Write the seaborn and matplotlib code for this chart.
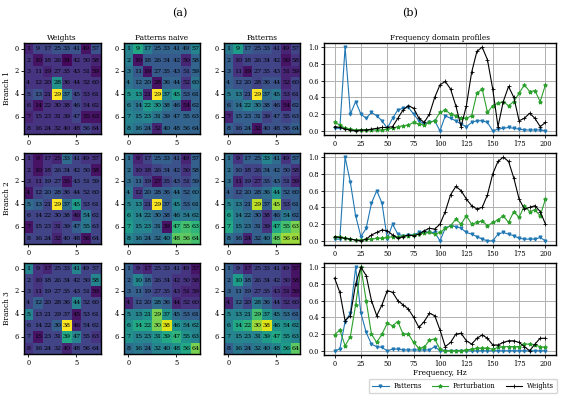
import numpy as np
import matplotlib
matplotlib.use("Agg")
import matplotlib.pyplot as plt
import seaborn as sns

plt.rcParams['font.family'] = 'DejaVu Serif'

# ---- heatmap data (relative intensity 0..1), rows 0-7 top to bottom ----
b1_weights = [
    [0.10, 0.20, 0.20, 0.25, 0.25, 0.25, 0.05, 0.25],
    [0.15, 0.05, 0.15, 0.15, 0.02, 0.15, 0.15, 0.10],
    [0.15, 0.15, 0.10, 0.15, 0.15, 0.15, 0.15, 0.05],
    [0.15, 0.15, 0.15, 0.50, 0.15, 0.15, 0.15, 0.15],
    [0.20, 0.25, 0.15, 1.00, 0.35, 0.20, 0.15, 0.15],
    [0.15, 0.05, 0.15, 0.15, 0.15, 0.20, 0.15, 0.15],
    [0.10, 0.15, 0.15, 0.15, 0.15, 0.20, 0.05, 0.05],
    [0.15, 0.15, 0.15, 0.15, 0.15, 0.15, 0.20, 0.15],
]
b1_naive = [
    [0.45, 0.60, 0.42, 0.32, 0.32, 0.32, 0.32, 0.45],
    [0.42, 0.05, 0.28, 0.28, 0.28, 0.28, 0.10, 0.32],
    [0.38, 0.28, 0.05, 0.28, 0.28, 0.28, 0.22, 0.32],
    [0.38, 0.32, 0.32, 0.05, 0.32, 0.32, 0.15, 0.38],
    [0.50, 0.50, 0.10, 1.00, 0.45, 0.55, 0.28, 0.32],
    [0.42, 0.38, 0.55, 0.50, 0.38, 0.32, 0.05, 0.32],
    [0.45, 0.42, 0.45, 0.38, 0.32, 0.32, 0.32, 0.32],
    [0.42, 0.38, 0.32, 0.10, 0.32, 0.32, 0.32, 0.32],
]
b1_patterns = [
    [0.40, 0.55, 0.30, 0.25, 0.25, 0.20, 0.10, 0.20],
    [0.30, 0.15, 0.20, 0.20, 0.20, 0.20, 0.05, 0.15],
    [0.30, 0.15, 0.05, 0.20, 0.20, 0.20, 0.10, 0.10],
    [0.30, 0.25, 0.25, 0.20, 0.25, 0.25, 0.10, 0.20],
    [0.40, 0.40, 0.25, 1.00, 0.35, 0.40, 0.15, 0.20],
    [0.30, 0.35, 0.45, 0.40, 0.30, 0.25, 0.05, 0.25],
    [0.10, 0.30, 0.30, 0.30, 0.20, 0.25, 0.20, 0.25],
    [0.30, 0.25, 0.30, 0.05, 0.25, 0.25, 0.25, 0.30],
]
b2_weights = [
    [0.15, 0.05, 0.15, 0.10, 0.35, 0.20, 0.15, 0.15],
    [0.15, 0.05, 0.15, 0.20, 0.20, 0.20, 0.20, 0.05],
    [0.15, 0.15, 0.20, 0.20, 0.05, 0.20, 0.20, 0.20],
    [0.05, 0.20, 0.25, 0.25, 0.20, 0.20, 0.20, 0.20],
    [0.35, 0.30, 0.20, 1.00, 0.35, 0.55, 0.20, 0.20],
    [0.20, 0.20, 0.20, 0.20, 0.20, 0.10, 0.40, 0.20],
    [0.05, 0.20, 0.20, 0.15, 0.20, 0.30, 0.40, 0.20],
    [0.20, 0.20, 0.20, 0.10, 0.20, 0.20, 0.05, 0.20],
]
b2_naive = [
    [0.35, 0.10, 0.20, 0.30, 0.30, 0.25, 0.10, 0.30],
    [0.35, 0.15, 0.15, 0.20, 0.25, 0.25, 0.15, 0.30],
    [0.35, 0.30, 0.20, 0.05, 0.20, 0.25, 0.20, 0.30],
    [0.40, 0.15, 0.30, 0.30, 0.30, 0.35, 0.30, 0.35],
    [0.45, 0.45, 0.20, 1.00, 0.30, 0.45, 0.30, 0.35],
    [0.50, 0.45, 0.40, 0.35, 0.30, 0.40, 0.40, 0.40],
    [0.55, 0.45, 0.45, 0.35, 0.05, 0.65, 0.70, 0.65],
    [0.45, 0.40, 0.35, 0.35, 0.40, 0.75, 0.75, 0.70],
]
b2_patterns = [
    [0.35, 0.15, 0.30, 0.30, 0.45, 0.35, 0.15, 0.30],
    [0.35, 0.25, 0.20, 0.20, 0.30, 0.30, 0.25, 0.15],
    [0.35, 0.10, 0.20, 0.15, 0.25, 0.30, 0.20, 0.10],
    [0.30, 0.25, 0.30, 0.30, 0.35, 0.50, 0.30, 0.30],
    [0.45, 0.40, 0.30, 0.90, 0.30, 0.85, 0.20, 0.30],
    [0.55, 0.40, 0.35, 0.30, 0.15, 0.30, 0.40, 0.30],
    [0.60, 0.40, 0.35, 0.30, 0.15, 0.60, 0.70, 0.80],
    [0.35, 0.30, 0.10, 0.30, 0.35, 0.75, 0.85, 0.85],
]
b3_weights = [
    [0.45, 0.15, 0.10, 0.20, 0.20, 0.45, 0.20, 0.20],
    [0.20, 0.15, 0.20, 0.20, 0.20, 0.20, 0.20, 0.45],
    [0.20, 0.15, 0.20, 0.20, 0.20, 0.20, 0.20, 0.05],
    [0.20, 0.30, 0.20, 0.20, 0.20, 0.45, 0.20, 0.20],
    [0.45, 0.20, 0.20, 0.20, 0.20, 0.05, 0.20, 0.20],
    [0.20, 0.20, 0.20, 0.30, 1.00, 0.10, 0.20, 0.20],
    [0.20, 0.05, 0.20, 0.20, 0.60, 0.45, 0.20, 0.15],
    [0.15, 0.20, 0.20, 0.20, 0.10, 0.20, 0.20, 0.20],
]
b3_naive = [
    [0.30, 0.15, 0.10, 0.20, 0.20, 0.20, 0.15, 0.05],
    [0.30, 0.45, 0.30, 0.20, 0.20, 0.15, 0.15, 0.10],
    [0.30, 0.30, 0.25, 0.20, 0.20, 0.15, 0.10, 0.10],
    [0.10, 0.25, 0.25, 0.35, 0.30, 0.10, 0.15, 0.15],
    [0.45, 0.45, 0.50, 0.80, 0.50, 0.35, 0.30, 0.30],
    [0.50, 0.60, 0.60, 0.80, 0.95, 0.50, 0.45, 0.45],
    [0.50, 0.45, 0.45, 0.50, 0.60, 0.65, 0.50, 0.45],
    [0.35, 0.40, 0.35, 0.45, 0.45, 0.50, 0.60, 0.80],
]
b3_patterns = [
    [0.30, 0.20, 0.10, 0.20, 0.20, 0.20, 0.15, 0.05],
    [0.30, 0.55, 0.30, 0.20, 0.20, 0.20, 0.15, 0.05],
    [0.30, 0.30, 0.25, 0.20, 0.20, 0.15, 0.10, 0.05],
    [0.10, 0.30, 0.20, 0.40, 0.30, 0.20, 0.15, 0.15],
    [0.45, 0.45, 0.45, 0.70, 0.50, 0.40, 0.35, 0.30],
    [0.45, 0.60, 0.65, 0.85, 0.95, 0.50, 0.50, 0.45],
    [0.45, 0.45, 0.45, 0.45, 0.55, 0.60, 0.50, 0.45],
    [0.30, 0.40, 0.35, 0.40, 0.40, 0.45, 0.55, 0.75],
]

heatmaps = [
    [b1_weights, b1_naive, b1_patterns],
    [b2_weights, b2_naive, b2_patterns],
    [b3_weights, b3_naive, b3_patterns],
]
col_titles = ["Weights", "Patterns naive", "Patterns"]
branch_labels = ["Branch 1", "Branch 2", "Branch 3"]

# cell numbers, counted down the columns
cell_ids = np.arange(1, 65).reshape(8, 8).T

# ---- frequency profiles, every 5 Hz ----
freqs = np.arange(0, 205, 5)

b1_pat = [0.03, 0.03, 1.0, 0.2, 0.35, 0.2, 0.15, 0.22, 0.18, 0.12,
          0.03, 0.15, 0.25, 0.27, 0.28, 0.2, 0.12, 0.08, 0.1, 0.12,
          0.0, 0.18, 0.15, 0.12, 0.08, 0.05, 0.1, 0.12, 0.12, 0.1,
          0.0, 0.02, 0.03, 0.04, 0.03, 0.02, 0.01, 0.01, 0.01, 0.01, 0.0]
b1_pert = [0.1, 0.07, 0.03, 0.02, 0.01, 0.01, 0.01, 0.01, 0.01, 0.01,
           0.02, 0.03, 0.05, 0.06, 0.07, 0.1, 0.08, 0.07, 0.1, 0.12,
           0.22, 0.25, 0.2, 0.18, 0.15, 0.15, 0.18, 0.45, 0.5, 0.22,
           0.3, 0.33, 0.35, 0.3, 0.35, 0.45, 0.55, 0.47, 0.48, 0.35, 0.55]
b1_wts = [0.05, 0.04, 0.02, 0.01, 0.0, 0.01, 0.01, 0.02, 0.03, 0.04,
          0.04, 0.05, 0.15, 0.25, 0.3, 0.27, 0.15, 0.1, 0.2, 0.4,
          0.55, 0.59, 0.5, 0.3, 0.05, 0.3, 0.7, 0.95, 1.0, 0.85,
          0.5, 0.05, 0.35, 0.53, 0.4, 0.12, 0.15, 0.21, 0.15, 0.05, 0.1]

b2_pat = [0.02, 0.02, 1.0, 0.7, 0.3, 0.05, 0.15, 0.45, 0.6, 0.45,
          0.02, 0.2, 0.08, 0.06, 0.07, 0.07, 0.1, 0.1, 0.1, 0.1,
          0.0, 0.15, 0.18, 0.17, 0.15, 0.1, 0.08, 0.05, 0.02, 0.0,
          0.0, 0.08, 0.1, 0.08, 0.06, 0.03, 0.02, 0.02, 0.02, 0.04, 0.0]
b2_pert = [0.05, 0.05, 0.03, 0.02, 0.01, 0.01, 0.02, 0.02, 0.03, 0.03,
           0.04, 0.05, 0.05, 0.06, 0.06, 0.07, 0.08, 0.09, 0.1, 0.08,
           0.1, 0.15, 0.18, 0.26, 0.2, 0.3, 0.2, 0.22, 0.24, 0.18,
           0.22, 0.25, 0.3, 0.22, 0.35, 0.28, 0.42, 0.35, 0.37, 0.3, 0.5]
b2_wts = [0.05, 0.04, 0.03, 0.02, 0.01, 0.0, 0.02, 0.07, 0.1, 0.13,
          0.12, 0.07, 0.03, 0.05, 0.07, 0.06, 0.08, 0.12, 0.15, 0.14,
          0.2, 0.35, 0.55, 0.65, 0.6, 0.5, 0.42, 0.38, 0.4, 0.55,
          0.8, 0.95, 1.0, 0.95, 0.75, 0.5, 0.38, 0.4, 0.42, 0.35, 0.2]

b3_pat = [0.0, 0.02, 0.35, 0.45, 1.0, 0.45, 0.22, 0.08, 0.05, 0.04,
          0.0, 0.02, 0.02, 0.01, 0.01, 0.01, 0.01, 0.01, 0.01, 0.05,
          0.0, 0.0, 0.0, 0.0, 0.0, 0.0, 0.0, 0.0, 0.0, 0.0,
          0.0, 0.0, 0.0, 0.0, 0.0, 0.0, 0.0, 0.0, 0.0, 0.0, 0.0]
b3_pert = [0.19, 0.25, 0.06, 0.17, 0.55, 1.0, 0.6, 0.2, 0.1, 0.2,
           0.33, 0.3, 0.35, 0.2, 0.2, 0.1, 0.03, 0.04, 0.13, 0.14,
           0.02, 0.0, 0.0, 0.0, 0.0, 0.01, 0.02, 0.03, 0.03, 0.03,
           0.02, 0.04, 0.05, 0.05, 0.05, 0.05, 0.08, 0.08, 0.07, 0.05, 0.04]
b3_wts = [0.87, 0.7, 0.36, 0.42, 0.8, 1.0, 0.9, 0.6, 0.42, 0.55,
          0.72, 0.7, 0.6, 0.55, 0.5, 0.4, 0.28, 0.35, 0.45, 0.42,
          0.25, 0.05, 0.1, 0.2, 0.21, 0.12, 0.08, 0.15, 0.19, 0.15,
          0.07, 0.07, 0.1, 0.12, 0.12, 0.1, 0.05, 0.0, 0.08, 0.15, 0.15]

profiles = [
    (b1_pat, b1_pert, b1_wts),
    (b2_pat, b2_pert, b2_wts),
    (b3_pat, b3_pert, b3_wts),
]

W, H = 567, 396
fig = plt.figure(figsize=(W / 100, H / 100), dpi=100)


def rect(left, top, width, height):
    return [left / W, 1 - (top + height) / H, width / W, height / H]


row_tops = [43, 153, 263]
col_lefts = [23.5, 123.5, 223.5]
fs_tick = 4.8
fs_label = 5.3

for r in range(3):
    for c in range(3):
        ax = fig.add_axes(rect(col_lefts[c], row_tops[r], 77, 91))
        sns.heatmap(np.array(heatmaps[r][c]), ax=ax, cmap="viridis", vmin=0, vmax=1,
                    cbar=False, annot=cell_ids, fmt="d",
                    annot_kws={"fontsize": 4.6, "color": "black"})
        ax.set_xticks([0.5, 5.5])
        ax.set_xticklabels(["0", "5"], rotation=0, fontsize=fs_tick)
        ax.set_yticks([0.5, 2.5, 4.5, 6.5])
        ax.set_yticklabels(["0", "2", "4", "6"], rotation=0, fontsize=fs_tick)
        ax.tick_params(length=2, width=0.6, pad=1.5)
        for s in ax.spines.values():
            s.set_visible(True)
            s.set_linewidth(1.0)
            s.set_color("black")
        if r == 0:
            ax.set_title(col_titles[c], fontsize=fs_label, pad=2)
        if c == 0:
            ax.set_ylabel(branch_labels[r], fontsize=fs_label, labelpad=2)

for r in range(3):
    ax = fig.add_axes(rect(324, row_tops[r], 232, 92))
    pat, pert, wts = profiles[r]
    sns.lineplot(x=freqs, y=pat, ax=ax, color="tab:blue", marker="v",
                 markersize=2.2, markeredgecolor="tab:blue", linewidth=0.8,
                 label="Patterns", legend=False)
    sns.lineplot(x=freqs, y=pert, ax=ax, color="tab:green", marker="*",
                 markersize=2.8, markeredgecolor="tab:green", linewidth=0.8,
                 label="Perturbation", legend=False)
    sns.lineplot(x=freqs, y=wts, ax=ax, color="black", marker="+",
                 markersize=2.5, markeredgecolor="black", markeredgewidth=0.6,
                 linewidth=0.8, label="Weights", legend=False)
    ax.set_xlim(-10, 210)
    ax.set_ylim(-0.05, 1.05)
    ax.set_xticks(range(0, 201, 25))
    ax.set_yticks([0.0, 0.2, 0.4, 0.6, 0.8, 1.0])
    ax.tick_params(labelsize=fs_tick, length=2, width=0.6, pad=1.5)
    ax.grid(True, color="#b0b0b0", linewidth=0.7)
    ax.set_axisbelow(True)
    for s in ax.spines.values():
        s.set_linewidth(1.0)
    if r == 0:
        ax.set_title("Frequency domain profiles", fontsize=fs_label, pad=2)
    if r == 2:
        ax.set_xlabel("Frequency, Hz", fontsize=fs_label, labelpad=0.5)
        handles, labels = ax.get_legend_handles_labels()

fig.text(180 / W, 1 - 13 / H, "(a)", fontsize=8, ha="center", va="center")
fig.text(410 / W, 1 - 13 / H, "(b)", fontsize=8, ha="center", va="center")

fig.legend(handles, labels, ncol=3, loc="lower right",
           bbox_to_anchor=(557 / W, 1 - 393 / H), borderaxespad=0,
           fontsize=fs_tick, frameon=True, handlelength=2.5,
           columnspacing=1.5, handletextpad=0.7, borderpad=0.45,
           fancybox=True, edgecolor="#cccccc")

fig.savefig("out.png", dpi=100)
